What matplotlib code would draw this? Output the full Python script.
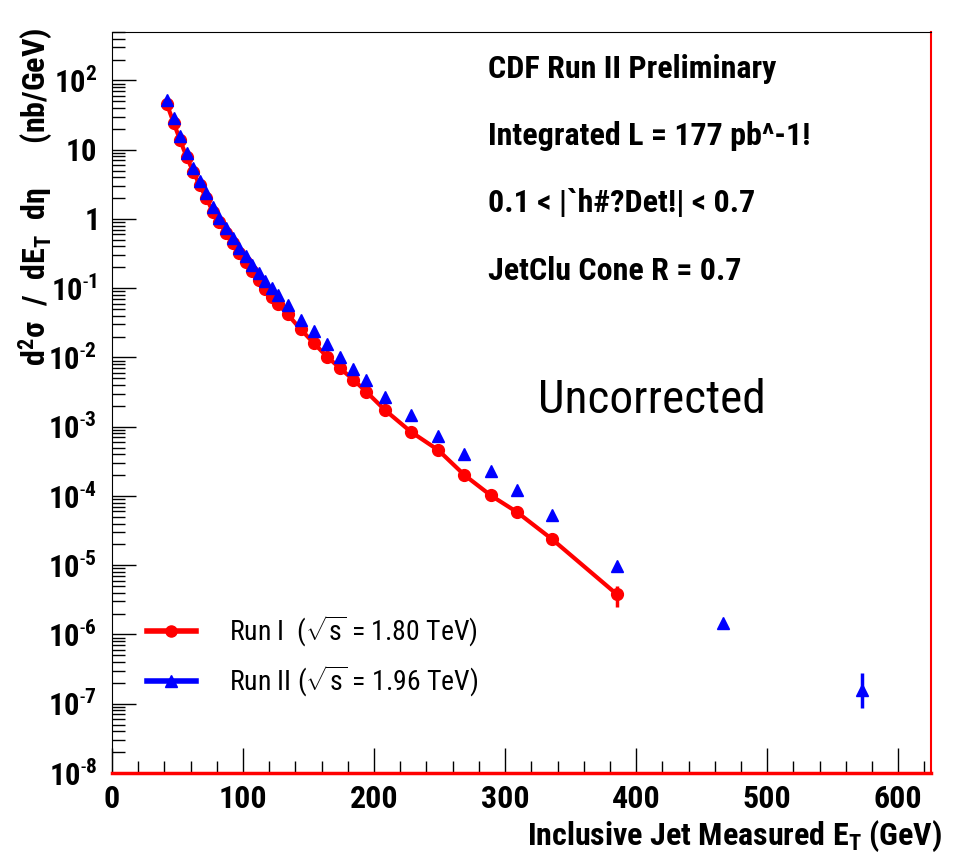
import numpy as np
import matplotlib
matplotlib.use("Agg")
import matplotlib.pyplot as plt
from matplotlib import font_manager
from matplotlib.lines import Line2D
from matplotlib.ticker import LogLocator, FuncFormatter, MultipleLocator

# ---------------- data ----------------
et_bins = [42, 47, 52, 57, 62, 67, 72, 77, 82, 87, 92, 97, 102, 107, 112, 117,
           122, 127, 134, 144, 154, 164, 174, 184, 194, 208, 228, 249, 269, 289,
           309, 336, 385]

run1_xsec = [44.9, 24.6, 13.7, 7.8, 4.8, 3.06, 1.98, 1.28, 0.89, 0.63, 0.449,
             0.321, 0.238, 0.176, 0.131, 0.097, 0.074, 0.0587, 0.042, 0.0255,
             0.0161, 0.0103, 0.0070, 0.0048, 0.00321, 0.00176, 8.47e-4,
             4.59e-4, 2.0e-4, 1.02e-4, 5.86e-5, 2.36e-5, 3.84e-6]

run2_et = et_bins + [466, 572]
run2_xsec = [53, 28.4, 16.0, 9.1, 5.5, 3.55, 2.33, 1.51, 1.04, 0.75, 0.536,
             0.384, 0.291, 0.216, 0.165, 0.126, 0.101, 0.081, 0.058, 0.035,
             0.0238, 0.0154, 0.0103, 0.00685, 0.00475, 0.00272, 0.00148,
             7.4e-4, 3.97e-4, 2.28e-4, 1.21e-4, 5.36e-5, 9.9e-6, 1.45e-6, 1.6e-7]

# visible error bars only (last points)
run1_err_lo = [0.0] * 32 + [1.38e-6]
run1_err_hi = [0.0] * 32 + [1.13e-6]
run2_err_lo = [0.0] * 34 + [7.3e-8]
run2_err_hi = [0.0] * 34 + [1.2e-7]

info_lines = ["CDF Run II Preliminary", "Integrated L = 177 pb^-1!",
              "0.1 < |`h#?Det!| < 0.7", "JetClu Cone R = 0.7"]
legend_labels = [r"Run I  ($\sqrt{\mathrm{s}}$ = 1.80 TeV)",
                 r"Run II ($\sqrt{\mathrm{s}}$ = 1.96 TeV)"]

# ---------------- fonts ----------------
available = {f.name for f in font_manager.fontManager.ttflist}
FONT = "Liberation Sans"
for cand in ["Roboto Condensed", "PT Sans Narrow", "Liberation Sans Narrow"]:
    if cand in available:
        FONT = cand
        break
plt.rcParams["font.family"] = [FONT, "DejaVu Sans"]
plt.rcParams["mathtext.fontset"] = "custom"
plt.rcParams["mathtext.rm"] = FONT
plt.rcParams["mathtext.bf"] = FONT + ":bold"
plt.rcParams["mathtext.it"] = FONT + ":italic"

W, H = 954, 861
fig = plt.figure(figsize=(W / 100, H / 100), dpi=100)


def fx(px):
    return px / W


def fy(py):
    return 1 - py / H


ax = fig.add_axes([fx(112), fy(773), fx(931) - fx(112), fy(32) - fy(773)])

ax.plot(et_bins, run1_xsec, color="red", lw=3.0, zorder=2)
ax.errorbar(et_bins, run1_xsec, yerr=[run1_err_lo, run1_err_hi], fmt="o",
            color="red", ms=8.5, elinewidth=2.5, capsize=0, zorder=3)
ax.errorbar(run2_et, run2_xsec, yerr=[run2_err_lo, run2_err_hi], fmt="^",
            color="blue", ms=8.5, elinewidth=2.5, capsize=0, zorder=4)

ax.set_yscale("log")
ax.set_xlim(0, 625)
ax.set_ylim(1e-8, 500)

# ticks, ROOT style
ax.xaxis.set_major_locator(MultipleLocator(100))
ax.xaxis.set_minor_locator(MultipleLocator(20))
ax.yaxis.set_major_locator(LogLocator(base=10, numticks=20))
ax.yaxis.set_minor_locator(LogLocator(base=10, subs=np.arange(2, 10), numticks=20))


def ylab(v, pos):
    e = int(round(np.log10(v)))
    if e == 1:
        return r"$\mathbf{10}$"
    if e == 0:
        return r"$\mathbf{1}$"
    if e < 0:
        return r"$\mathbf{10^{\text{-}%d}}$" % (-e)
    return r"$\mathbf{10^{%d}}$" % e


ax.yaxis.set_major_formatter(FuncFormatter(ylab))
ax.tick_params(axis="both", which="both", direction="in", top=False, right=False,
               color="black", width=1.0)
ax.tick_params(axis="y", which="major", length=17, labelsize=22, pad=11)
ax.tick_params(axis="y", which="minor", length=9)
ax.tick_params(axis="x", which="major", length=18, labelsize=23, pad=8)
ax.tick_params(axis="x", which="minor", length=9)
for lab in ax.get_xticklabels():
    lab.set_fontweight("bold")

ax.spines["left"].set_color("black")
ax.spines["top"].set_color("black")
ax.spines["right"].set_color("red")
ax.spines["bottom"].set_color("red")
ax.spines["bottom"].set_linewidth(2.5)
ax.spines["right"].set_linewidth(1.5)

# text block
for txt, base in zip(info_lines, [78, 145, 212, 280]):
    fig.text(fx(488), fy(base), txt, fontsize=23, fontweight="bold",
             ha="left", va="baseline")
fig.text(fx(538), fy(413), "Uncorrected", fontsize=34, ha="left", va="baseline")

# axis titles
fig.text(fx(942), fy(845), r"Inclusive Jet Measured $\mathbf{E_{T}}$ (GeV)",
         fontsize=23, fontweight="bold", ha="right", va="baseline")
fig.text(fx(36), fy(27),
         r"$\mathbf{d^{2}\sigma\ \ /\ \ dE_{T}\ \ d\eta}$      (nb/GeV)",
         fontsize=23, fontweight="bold", rotation=90, ha="center", va="top")

# legend
handles = [Line2D([0], [0], color="red", lw=4, marker="o", ms=8),
           Line2D([0], [0], color="blue", lw=4, marker="^", ms=8)]
ax.legend(handles, legend_labels, loc="upper left", bbox_to_anchor=(fx(147), fy(614)),
          bbox_transform=fig.transFigure, frameon=False, fontsize=20,
          handlelength=1.75, handletextpad=1.2, labelspacing=0.5,
          borderpad=0, borderaxespad=0)

fig.savefig("out.png", dpi=100)
